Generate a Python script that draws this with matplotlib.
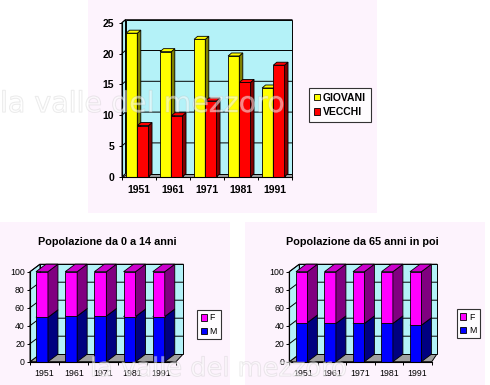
import matplotlib
matplotlib.use('Agg')
import matplotlib.pyplot as plt
import matplotlib.patheffects as pe
from matplotlib.patches import Polygon, Rectangle

plt.rcParams['font.family'] = ['Liberation Sans', 'DejaVu Sans']

# ---------------- data ----------------
years = ['1951', '1961', '1971', '1981', '1991']
giovani = [23.3, 20.3, 22.3, 19.6, 14.4]
vecchi = [8.3, 9.9, 12.3, 15.3, 18.1]
m_0_14 = [49.3, 50.7, 50.7, 50.2, 50.2]
f_0_14 = [100 - v for v in m_0_14]
m_65 = [43.5, 42.5, 42.5, 42.5, 40.5]
f_65 = [100 - v for v in m_65]
top_yticks = [0, 5, 10, 15, 20, 25]
bottom_yticks = [0, 20, 40, 60, 80, 100]
title_young = 'Popolazione da 0 a 14 anni'
title_old = 'Popolazione da 65 anni in poi'
watermark = 'la valle del mezzoro'

W, H = 490, 385
fig = plt.figure(figsize=(W / 100, H / 100), dpi=100)
fig.patch.set_facecolor('white')


def frect(x0, y0, x1, y1):
    return [x0 / W, 1 - y1 / H, (x1 - x0) / W, (y1 - y0) / H]


# light panels behind each chart
for (x0, y0, x1, y1) in [(88, 0, 377, 213), (0, 222, 230, 385), (245, 222, 485, 385)]:
    fig.add_artist(Rectangle((x0 / W, 1 - y1 / H), (x1 - x0) / W, (y1 - y0) / H,
                             transform=fig.transFigure, facecolor='#fdf3fd',
                             edgecolor='none', zorder=0))

WALL = '#b4f2f8'
FLOOR = '#a0a0a0'


def chart3d(px, ymax, yticks, series, faces, lefts, width, stacked,
            dxp, dyp, back_extra, fs, weight, ypad, xpad):
    x0, y0, x1, y1 = px
    ax = fig.add_axes(frect(*px))
    ax.set_xlim(-0.5, 4.5)
    ax.set_ylim(0, ymax)
    ax.patch.set_visible(False)
    dx = dxp / (x1 - x0) * 5
    dy = dyp / (y1 - y0) * ymax
    L = -0.5
    xr = 4.5 + back_extra * dx
    kw = dict(clip_on=False, edgecolor='black', linewidth=0.7)
    # floor, side wall, back wall
    ax.add_patch(Polygon([(L, 0), (4.5, 0), (xr, dy), (L + dx, dy)],
                         facecolor=FLOOR, zorder=1, **kw))
    ax.add_patch(Polygon([(L, 0), (L + dx, dy), (L + dx, ymax + dy), (L, ymax)],
                         facecolor=WALL, zorder=1, **kw))
    ax.add_patch(Rectangle((L + dx, dy), xr - (L + dx), ymax,
                           facecolor=WALL, zorder=1, **kw))
    for v in yticks:
        if v > 0:
            ax.plot([L, L + dx, xr], [v, v + dy, v + dy], color='black', lw=0.7,
                    clip_on=False, zorder=2)
    # bars
    bottoms = [0.0] * 5
    for s, vals in enumerate(series):
        fc, sc, tc = faces[s]
        lx = [i + lefts[s] for i in range(5)]
        bots = list(bottoms) if stacked else [0.0] * 5
        bars = ax.bar(lx, vals, width, bottom=bots, align='edge', color=fc,
                      edgecolor='black', linewidth=0.6)
        for i, r in enumerate(bars):
            zc = 10 + i * 10 + s * 3
            r.set_zorder(zc)
            r.set_clip_on(False)
            xa, xb = lx[i], lx[i] + width
            b, t = bots[i], bots[i] + vals[i]
            ax.add_patch(Polygon([(xb, b), (xb + dx, b + dy), (xb + dx, t + dy), (xb, t)],
                                 facecolor=sc, zorder=zc + 1, clip_on=False,
                                 edgecolor='black', linewidth=0.6))
            ax.add_patch(Polygon([(xa, t), (xb, t), (xb + dx, t + dy), (xa + dx, t + dy)],
                                 facecolor=tc, zorder=zc + 2, clip_on=False,
                                 edgecolor='black', linewidth=0.6))
        if stacked:
            bottoms = [bottoms[i] + vals[i] for i in range(5)]
    # axes
    ax.set_yticks(yticks)
    ax.set_yticklabels([str(v) for v in yticks])
    ax.set_xticks(range(5))
    ax.set_xticklabels(years)
    ax.set_xticks([L + k for k in range(6)], minor=True)
    ax.tick_params(axis='x', which='major', length=0, pad=xpad)
    ax.tick_params(axis='x', which='minor', length=2.2, width=0.7)
    ax.tick_params(axis='y', length=2.2, width=0.7, pad=ypad)
    for lab in ax.get_xticklabels() + ax.get_yticklabels():
        lab.set_fontsize(fs)
        lab.set_fontweight(weight)
    for side in ['top', 'right']:
        ax.spines[side].set_visible(False)
    for side in ['left', 'bottom']:
        ax.spines[side].set_color('black')
        ax.spines[side].set_linewidth(0.8)
        ax.spines[side].set_zorder(100)
    return ax, bars


# ---------------- top chart ----------------
ax1, _ = chart3d((122, 22.7, 292, 176.7), 25, top_yticks, [giovani, vecchi],
                 [('#ffff00', '#808000', '#ffff00'), ('#ff0000', '#800000', '#ff0000')],
                 [-0.38, -0.05], 0.33, False, 3.5, 3, 0.0, 7.5, 'bold', 3.5, 6)
h1 = [Rectangle((0, 0), 1, 1, facecolor='#ffff00', edgecolor='black', lw=0.6),
      Rectangle((0, 0), 1, 1, facecolor='#ff0000', edgecolor='black', lw=0.6)]
leg = fig.legend(h1, ['GIOVANI', 'VECCHI'], loc='upper left',
                 bbox_to_anchor=(309 / W, 1 - 88 / H), frameon=True, fancybox=False,
                 prop={'size': 7.5, 'weight': 'bold'}, handlelength=0.6, handleheight=0.6,
                 handletextpad=0.3, borderpad=0.45, labelspacing=0.45, borderaxespad=0)
leg.get_frame().set_edgecolor('black')
leg.get_frame().set_linewidth(0.8)

# ---------------- bottom-left chart ----------------
faces_mf = [('#0000ff', '#000080', '#0000ff'), ('#ff00ff', '#800080', '#cc00cc')]
ax2, _ = chart3d((30, 271.7, 176, 361.7), 100, bottom_yticks, [m_0_14, f_0_14],
                 faces_mf, [-0.295, -0.295], 0.41, True, 10, 7.5, 0.7, 6.3, 'normal', 1.5, 5)
fig.text(107 / W, 1 - 242 / H, title_young, ha='center', va='center',
         fontsize=7.8, fontweight='bold')

# ---------------- bottom-right chart ----------------
ax3, _ = chart3d((289.3, 271.7, 431.8, 361.7), 100, bottom_yticks, [m_65, f_65],
                 faces_mf, [-0.265, -0.265], 0.40, True, 10, 7.5, 0.5, 6.3, 'normal', 1.5, 5)
fig.text(362 / W, 1 - 242 / H, title_old, ha='center', va='center',
         fontsize=7.8, fontweight='bold')

for (lx, ly) in [(197, 310), (456.7, 309)]:
    hm = [Rectangle((0, 0), 1, 1, facecolor='#ff00ff', edgecolor='black', lw=0.6),
          Rectangle((0, 0), 1, 1, facecolor='#0000ff', edgecolor='black', lw=0.6)]
    lg = fig.legend(hm, ['F', 'M'], loc='upper left', bbox_to_anchor=(lx / W, 1 - ly / H),
                    frameon=True, fancybox=False, prop={'size': 6.3},
                    handlelength=0.7, handleheight=0.7, handletextpad=0.35,
                    borderpad=0.4, labelspacing=0.5, borderaxespad=0)
    lg.get_frame().set_edgecolor('black')
    lg.get_frame().set_linewidth(0.8)

# very faint embossed watermark (white letters with a light grey outline)
wm_fx = [pe.withStroke(linewidth=0.8, foreground='#b8b8b8')]
for (wx, wy, fsz) in [(0, 104, 20.5), (90, 369, 18.5)]:
    fig.text(wx / W, 1 - wy / H, watermark, ha='left', va='center',
             fontsize=fsz, color='white', alpha=0.3, family='DejaVu Sans',
             zorder=300, path_effects=wm_fx)

fig.savefig('out.png', dpi=100, facecolor='white')
